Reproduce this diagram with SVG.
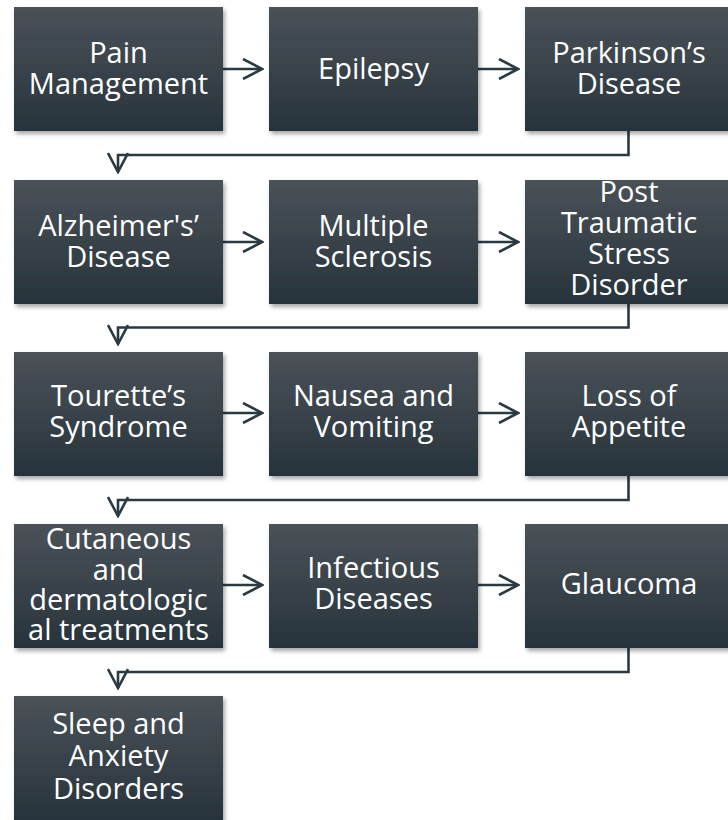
<svg xmlns="http://www.w3.org/2000/svg" width="728" height="820" viewBox="0 0 728 820">
<defs>
<linearGradient id="g" x1="0" y1="0" x2="0" y2="1">
<stop offset="0" stop-color="#4a5258"/>
<stop offset="1" stop-color="#27333b"/>
</linearGradient>
<filter id="sh" x="-10%" y="-10%" width="130%" height="130%">
<feDropShadow dx="2" dy="3" stdDeviation="2.2" flood-color="#000" flood-opacity="0.35"/>
</filter>
<marker id="ah" viewBox="0 0 22 22" refX="20" refY="11" markerWidth="22" markerHeight="22" markerUnits="userSpaceOnUse" orient="auto">
<path d="M1,1 L20,11 L1,21" fill="none" stroke="#2b3a42" stroke-width="2.6"/>
</marker>
</defs>
<style>
.box{fill:url(#g);filter:url(#sh)}
.t{font-family:"Open Sans","DejaVu Sans",sans-serif;font-size:29px;fill:#ffffff;text-anchor:middle}
.c{fill:none;stroke:#2b3a42;stroke-width:2.6}
</style>
<g id="connectors">
<line class="c" x1="223" y1="69" x2="262" y2="69" marker-end="url(#ah)"/>
<line class="c" x1="478" y1="69" x2="518" y2="69" marker-end="url(#ah)"/>
<polyline class="c" points="628.5,131 628.5,155 118,155 118,172" marker-end="url(#ah)"/>
<line class="c" x1="223" y1="242" x2="262" y2="242" marker-end="url(#ah)"/>
<line class="c" x1="478" y1="242" x2="518" y2="242" marker-end="url(#ah)"/>
<polyline class="c" points="628.5,304 628.5,327.5 118,327.5 118,344" marker-end="url(#ah)"/>
<line class="c" x1="223" y1="413" x2="262" y2="413" marker-end="url(#ah)"/>
<line class="c" x1="478" y1="413" x2="518" y2="413" marker-end="url(#ah)"/>
<polyline class="c" points="628.5,476 628.5,500 118,500 118,516" marker-end="url(#ah)"/>
<line class="c" x1="223" y1="585" x2="262" y2="585" marker-end="url(#ah)"/>
<line class="c" x1="478" y1="585" x2="518" y2="585" marker-end="url(#ah)"/>
<polyline class="c" points="628.5,648 628.5,672 118,672 118,688" marker-end="url(#ah)"/>
</g>
<g id="n1"><rect class="box" x="14" y="7" width="209" height="124"/><text class="t"><tspan x="118.5" y="63">Pain</tspan><tspan x="118.5" y="94">Management</tspan></text></g>
<g id="n2"><rect class="box" x="269" y="7" width="209" height="124"/><text class="t"><tspan x="373.5" y="79">Epilepsy</tspan></text></g>
<g id="n3"><rect class="box" x="525" y="7" width="209" height="124"/><text class="t"><tspan x="629" y="63">Parkinson’s</tspan><tspan x="629" y="94">Disease</tspan></text></g>
<g id="n4"><rect class="box" x="14" y="180" width="209" height="124"/><text class="t"><tspan x="118.5" y="236">Alzheimer's’</tspan><tspan x="118.5" y="267">Disease</tspan></text></g>
<g id="n5"><rect class="box" x="269" y="180" width="209" height="124"/><text class="t"><tspan x="373.5" y="236">Multiple</tspan><tspan x="373.5" y="267">Sclerosis</tspan></text></g>
<g id="n6"><rect class="box" x="525" y="180" width="209" height="124"/><text class="t"><tspan x="629" y="202">Post</tspan><tspan x="629" y="233">Traumatic</tspan><tspan x="629" y="264">Stress</tspan><tspan x="629" y="295">Disorder</tspan></text></g>
<g id="n7"><rect class="box" x="14" y="352" width="209" height="124"/><text class="t"><tspan x="118.5" y="406">Tourette’s</tspan><tspan x="118.5" y="437">Syndrome</tspan></text></g>
<g id="n8"><rect class="box" x="269" y="352" width="209" height="124"/><text class="t"><tspan x="373.5" y="406">Nausea and</tspan><tspan x="373.5" y="437">Vomiting</tspan></text></g>
<g id="n9"><rect class="box" x="525" y="352" width="209" height="124"/><text class="t"><tspan x="629" y="406">Loss of</tspan><tspan x="629" y="437">Appetite</tspan></text></g>
<g id="n10"><rect class="box" x="14" y="524" width="209" height="124"/><text class="t"><tspan x="118.5" y="549">Cutaneous</tspan><tspan x="118.5" y="580">and</tspan><tspan x="118.5" y="610">dermatologic</tspan><tspan x="118.5" y="640">al treatments</tspan></text></g>
<g id="n11"><rect class="box" x="269" y="524" width="209" height="124"/><text class="t"><tspan x="373.5" y="578">Infectious</tspan><tspan x="373.5" y="609">Diseases</tspan></text></g>
<g id="n12"><rect class="box" x="525" y="524" width="209" height="124"/><text class="t"><tspan x="629" y="594">Glaucoma</tspan></text></g>
<g id="n13"><rect class="box" x="14" y="696" width="209" height="124"/><text class="t"><tspan x="118.5" y="734">Sleep and</tspan><tspan x="118.5" y="766">Anxiety</tspan><tspan x="118.5" y="799">Disorders</tspan></text></g>
</svg>
